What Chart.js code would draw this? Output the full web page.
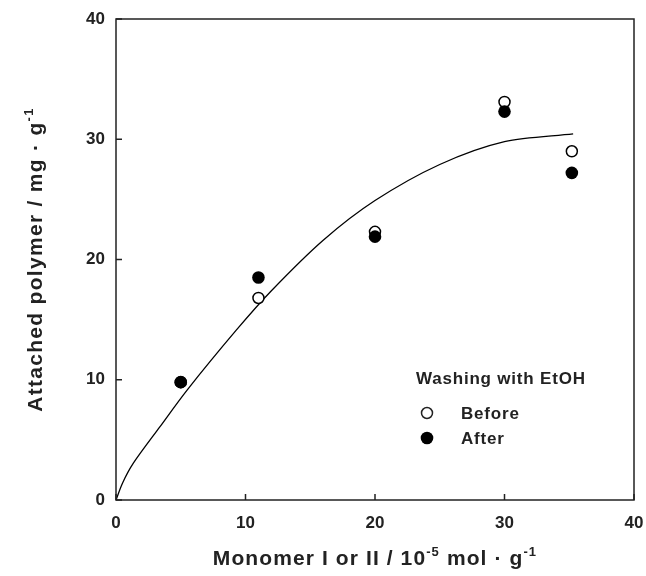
<!DOCTYPE html>
<html>
<head>
<meta charset="utf-8">
<script src="https://cdn.jsdelivr.net/npm/chart.js@4/dist/chart.umd.min.js"></script>
<style>
  html, body { margin: 0; padding: 0; background: #fff; }
  #wrap { width: 646px; height: 576px; }
</style>
</head>
<body>
<div id="wrap"><canvas id="chart" width="646" height="576"></canvas></div>
<script>
// monomer loading (10^-5 mol/g)
const monomer = [5, 11, 20, 30, 35.2];
const beforeWash = [9.8, 16.8, 22.3, 33.1, 29.0];
const afterWash = [9.8, 18.5, 21.9, 32.3, 27.2];

// fitted curve
const curveX = [0, 0.5, 1.34, 3.4, 5.46, 9.27, 12, 16, 20, 25, 30, 35.3];
const curveY = [0, 1.4, 3.06, 6.1, 9.1, 14.1, 17.4, 21.6, 24.9, 27.9, 29.8, 30.45];

const xTicks = [0, 10, 20, 30, 40];
const yTicks = [0, 10, 20, 30, 40];

const toPts = (xs, ys) => xs.map((x, i) => ({ x: x, y: ys[i] }));

const FONT = '"Liberation Sans", Arial, sans-serif';
const INK = '#222';

function drawParts(ctx, parts, size, spacing) {
  ctx.letterSpacing = spacing + 'px';
  let w = 0;
  parts.forEach(p => {
    ctx.font = 'bold ' + (p.sup ? size * 0.62 : size) + 'px ' + FONT;
    w += ctx.measureText(p.t).width;
  });
  let x = -w / 2;
  parts.forEach(p => {
    ctx.font = 'bold ' + (p.sup ? size * 0.62 : size) + 'px ' + FONT;
    ctx.fillText(p.t, x, p.sup ? -size * 0.42 : 0);
    x += ctx.measureText(p.t).width;
  });
  ctx.letterSpacing = '0px';
}

const framePlugin = {
  id: 'frame',
  afterDraw(chart) {
    const { ctx, chartArea: a, scales } = chart;
    ctx.save();
    ctx.strokeStyle = INK;
    ctx.lineWidth = 1.5;
    ctx.strokeRect(a.left, a.top, a.right - a.left, a.bottom - a.top);
    // inward ticks
    ctx.beginPath();
    yTicks.forEach(v => {
      const py = scales.y.getPixelForValue(v);
      ctx.moveTo(a.left, py); ctx.lineTo(a.left + 6, py);
    });
    xTicks.forEach(v => {
      const px = scales.x.getPixelForValue(v);
      ctx.moveTo(px, a.bottom); ctx.lineTo(px, a.bottom - 6);
    });
    ctx.stroke();

    ctx.fillStyle = INK;
    ctx.textBaseline = 'alphabetic';
    // x title
    ctx.save();
    ctx.translate((a.left + a.right) / 2, 565);
    drawParts(ctx, [{ t: 'Monomer I or II / 10' }, { t: '-5', sup: true }, { t: ' mol \u00b7 g' }, { t: '-1', sup: true }], 21, 1.1);
    ctx.restore();
    // y title
    ctx.save();
    ctx.translate(42, (a.top + a.bottom) / 2);
    ctx.rotate(-Math.PI / 2);
    drawParts(ctx, [{ t: 'Attached polymer / mg \u00b7 g' }, { t: '-1', sup: true }], 21, 1.3);
    ctx.restore();

    // legend
    ctx.textAlign = 'left';
    ctx.letterSpacing = '0.8px';
    ctx.font = 'bold 17px ' + FONT;
    ctx.fillText('Washing with EtOH', 416, 384);
    ctx.fillText('Before', 461, 419);
    ctx.fillText('After', 461, 444);
    ctx.letterSpacing = '0px';
    ctx.beginPath();
    ctx.arc(427, 413, 5.5, 0, Math.PI * 2);
    ctx.fillStyle = '#fff';
    ctx.fill();
    ctx.lineWidth = 1.5;
    ctx.stroke();
    ctx.beginPath();
    ctx.arc(427, 438, 6.3, 0, Math.PI * 2);
    ctx.fillStyle = '#000';
    ctx.fill();
    ctx.restore();
  }
};

new Chart(document.getElementById('chart'), {
  type: 'scatter',
  data: {
    datasets: [
      {
        label: 'After',
        data: toPts(monomer, afterWash),
        pointRadius: 6.3,
        pointBackgroundColor: '#000',
        pointBorderColor: '#000',
        pointBorderWidth: 0,
        order: 0
      },
      {
        label: 'Before',
        data: toPts(monomer, beforeWash),
        pointRadius: 5.5,
        pointBackgroundColor: '#fff',
        pointBorderColor: '#000',
        pointBorderWidth: 1.5,
        order: 1
      },
      {
        label: 'Fit',
        data: toPts(curveX, curveY),
        showLine: true,
        borderColor: '#000',
        borderWidth: 1.3,
        pointRadius: 0,
        tension: 0.3,
        order: 2
      }
    ]
  },
  options: {
    responsive: false,
    animation: false,
    layout: { padding: { top: 19, right: 0, left: 0, bottom: 0 } },
    plugins: { legend: { display: false }, tooltip: { enabled: false } },
    scales: {
      x: {
        type: 'linear',
        min: 0, max: 40,
        afterFit: s => { s.height = 76; s.paddingRight = 12; s.paddingLeft = 0; },
        afterBuildTicks: s => { s.ticks = xTicks.map(v => ({ value: v })); },
        grid: { display: false },
        border: { display: false },
        ticks: { color: INK, padding: 5, font: { family: FONT, size: 17, weight: 'bold' } }
      },
      y: {
        type: 'linear',
        min: 0, max: 40,
        afterFit: s => { s.width = 116; },
        afterBuildTicks: s => { s.ticks = yTicks.map(v => ({ value: v })); },
        grid: { display: false },
        border: { display: false },
        ticks: { color: INK, padding: 3, font: { family: FONT, size: 17, weight: 'bold' } }
      }
    }
  },
  plugins: [framePlugin]
});
</script>
</body>
</html>
